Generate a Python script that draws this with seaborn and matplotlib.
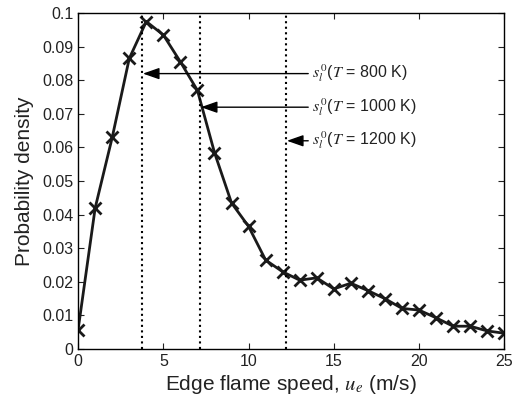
import numpy as np
import pandas as pd
import matplotlib
matplotlib.use("Agg")
import matplotlib.pyplot as plt
import seaborn as sns

# Datos
speed = list(range(0, 26))
density = [0.0058, 0.042, 0.063, 0.0865, 0.0975, 0.0935, 0.0855, 0.077, 0.0585,
           0.0435, 0.0365, 0.0265, 0.023, 0.0205, 0.0212, 0.0179, 0.0196, 0.0174,
           0.0150, 0.0121, 0.0116, 0.0093, 0.0068, 0.0068, 0.0054, 0.0047]

# Velocidades laminares para cada temperatura
sl_speed = [3.75, 7.15, 12.2]
sl_labels = ["800 K", "1000 K", "1200 K"]
arrow_y = [0.082, 0.072, 0.062]

df = pd.DataFrame({"speed": speed, "density": density})

sns.set_style("ticks")
plt.rcParams["font.family"] = ["Liberation Sans", "DejaVu Sans"]
plt.rcParams["mathtext.fontset"] = "stix"

fig = plt.figure(figsize=(5.14, 3.98), dpi=100)
ax = fig.add_axes([0.152, 0.123, 0.829, 0.844])

sns.lineplot(data=df, x="speed", y="density", ax=ax, color="#1a1a1a", lw=2,
             marker="x", markersize=8, markeredgewidth=2, markeredgecolor="#1a1a1a")

for xv in sl_speed:
    ax.axvline(xv, color="black", ls=":", lw=1.5)

text_x = 13.7
for xv, lab, yv in zip(sl_speed, sl_labels, arrow_y):
    ax.annotate("", xy=(xv + 0.05, yv), xytext=(text_x - 0.2, yv),
                arrowprops=dict(arrowstyle="-|>,head_length=1.0,head_width=0.35",
                                color="#555555", lw=1, shrinkA=0, shrinkB=0,
                                fc="black", ec="black"))
    ax.text(text_x, yv, r"$s_l^{\,0}$($T$ = " + lab + ")", fontsize=11.5,
            va="center", ha="left", color="#222222")

ax.set_xlim(0, 25)
ax.set_ylim(0, 0.1)
ax.set_xticks([0, 5, 10, 15, 20, 25])
ax.set_yticks(np.arange(0, 0.101, 0.01))
ax.set_yticklabels(["0", "0.01", "0.02", "0.03", "0.04", "0.05", "0.06",
                    "0.07", "0.08", "0.09", "0.1"])
ax.tick_params(direction="in", top=True, right=True, labelsize=11.5, length=4,
               colors="#222222")
ax.set_xlabel(r"Edge flame speed, $u_e$ (m/s)", fontsize=15, color="#222222",
              labelpad=3)
ax.set_ylabel("Probability density", fontsize=15, color="#222222", labelpad=6)
for s in ax.spines.values():
    s.set_color("black")
    s.set_linewidth(1)

fig.savefig("out.png", dpi=100)
